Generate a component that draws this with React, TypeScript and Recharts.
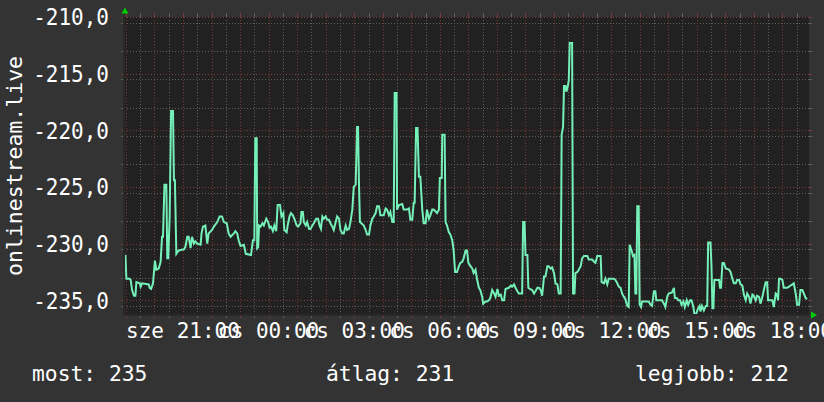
import React from 'react';
import { LineChart, Line, XAxis, YAxis, CartesianGrid } from 'recharts';

// minutes since 18:56 (Wednesday)
const minutes = [
  3, 5, 12, 14, 17, 21, 24, 26, 33, 35, 38, 52, 54, 57, 61, 65, 68, 73, 77, 80, 82, 85, 89, 91, 93, 96, 99, 103, 105, 107,
  110, 115, 126, 129, 133, 136, 140, 143, 147, 150, 154, 161, 163, 166, 171, 175, 178, 185, 189, 196, 201, 206, 210, 216, 220,
  224, 231, 234, 238, 241, 245, 252, 256, 267, 271, 274, 276, 279, 280, 282, 284, 287, 291, 294, 299, 303, 306, 309, 313, 316,
  320, 323, 328, 331, 335, 337, 342, 344, 348, 351, 355, 359, 363, 366, 371,
  373, 376, 378, 382, 385, 389, 392, 396, 399, 404, 408, 411, 414, 417, 420, 424, 427, 431, 434, 438, 441, 445, 448, 452, 455,
  459, 462, 466, 469, 473, 476, 480, 483, 487, 490, 492, 494, 496, 499, 504, 508, 511, 515, 518, 522, 525, 529, 532, 536, 539,
  546, 550, 553, 557, 560, 564, 567, 569, 573, 574, 578, 585, 588, 595, 599, 602, 606, 609, 611, 614, 617, 620, 623, 627, 630,
  634, 637, 641, 644, 648, 651, 658, 662, 664, 668, 669, 674, 676, 679, 683, 686, 690, 693, 696, 700, 704, 707, 711, 714, 718,
  721, 724, 727,
  732, 735, 739, 742, 746, 749, 753, 755, 760, 763, 767, 770, 774, 778, 781, 785, 788, 792, 795, 799, 802, 809, 813, 816, 820,
  823, 827, 830, 834, 837, 839, 842, 844, 848, 850, 853, 858, 862, 865, 869, 872, 876, 879, 883, 886, 890, 893, 897, 900, 904,
  907, 911, 914, 918, 920, 923, 925, 928, 930, 933, 935, 937, 942, 944, 947, 949, 953, 956, 960, 963, 967, 970, 974, 977, 984,
  988, 991, 995, 1002, 1004, 1009, 1012, 1016, 1019, 1030, 1033, 1037, 1040, 1044, 1047, 1051, 1054, 1058, 1061, 1063, 1067,
  1070, 1073, 1075, 1077, 1079, 1082, 1084, 1087, 1089, 1100, 1103, 1107,
  1110, 1114, 1117, 1119, 1131, 1135, 1138, 1142, 1145, 1152, 1156, 1158, 1162, 1165, 1169, 1172, 1176, 1179, 1183, 1186, 1190,
  1193, 1197, 1199, 1203, 1206, 1210, 1212, 1215, 1219, 1223, 1226, 1228, 1233, 1235, 1237, 1239, 1241, 1251, 1253, 1255, 1258,
  1261, 1265, 1272, 1275, 1279, 1282, 1286, 1289, 1293, 1296, 1300, 1303, 1307, 1310, 1314, 1317, 1321, 1324, 1328, 1331, 1335,
  1338, 1342, 1345, 1349, 1352, 1354, 1363, 1366, 1370, 1373, 1375, 1377, 1380, 1384, 1387, 1394, 1398, 1401, 1405, 1408, 1412,
  1415, 1419, 1422, 1426, 1429, 1433, 1436,
];

const values = [
  -231.0, -233.1, -233.1, -233.2, -234.1, -234.6, -234.6, -233.4, -233.5, -233.8, -233.5, -233.6, -233.9, -234.0, -233.5, -231.5,
  -232.3, -232.2, -231.6, -229.4, -229.4, -224.8, -224.8, -231.3, -231.3, -227.6, -218.3, -218.3, -224.4, -224.4,
  -230.9, -230.6, -230.5, -230.3, -229.4, -229.4, -230.4, -229.4, -230.0, -229.8, -230.0, -230.1, -229.1, -228.5, -228.4, -230.0,
  -229.1, -228.8, -228.5, -228.1, -227.6, -227.6, -228.1, -228.2, -229.1,
  -229.4, -229.1, -228.9, -229.1, -229.7, -230.2, -230.1, -230.9, -231.0, -229.7, -229.7, -220.7, -220.7, -230.4, -230.3, -228.4,
  -228.5, -228.2, -228.4, -227.8, -228.1, -228.6, -228.5, -228.9, -228.4,
  -228.9, -226.6, -226.6, -227.6, -227.3, -228.8, -229.0, -228.4, -227.6, -227.3, -227.5, -227.9, -228.4, -228.5, -228.2,
  -227.2, -227.2, -228.1, -228.4, -228.1, -228.7, -228.7, -228.4, -228.2, -227.8, -227.8, -228.4, -228.7, -227.6, -227.8, -227.6,
  -227.9, -227.9, -228.2, -228.5, -228.8, -228.1, -227.6, -227.8, -228.8,
  -229.1, -229.1, -228.4, -228.8, -228.7, -228.1, -227.0, -225.0, -224.8, -219.7, -219.7, -224.8, -228.1, -228.2, -228.4, -228.8,
  -229.2, -229.2, -228.4, -227.8, -227.6, -227.3, -226.7, -226.7, -227.5,
  -227.5, -226.9, -227.0, -227.5, -227.2, -228.1, -228.1, -216.7, -216.7, -227.0, -226.6, -226.5, -227.0, -227.0, -226.9, -227.9,
  -227.9, -226.4, -226.4, -219.8, -219.8, -224.1, -224.1, -227.0, -228.2,
  -228.2, -227.0, -227.8, -227.5, -227.0, -227.0, -227.3, -227.0, -224.2, -224.2, -220.4, -220.4, -228.1, -228.4, -229.0, -229.2,
  -229.7, -230.6, -232.5, -232.5, -232.0, -231.7, -231.6, -231.3, -230.6,
  -230.6, -231.7, -231.9,
  -232.2, -232.6, -232.3, -233.1, -233.9, -234.1, -234.7, -235.3, -235.1, -235.1, -235.0, -234.8, -234.1, -234.4, -234.7, -234.0,
  -234.6, -234.5, -235.0, -235.0, -234.0, -233.9, -233.7, -233.8, -233.6,
  -233.9, -234.2, -234.4, -234.4, -234.4, -228.1, -228.1, -231.0, -231.0, -233.9, -234.0, -234.1, -234.4, -234.2, -233.9, -233.9,
  -234.1, -234.6, -232.9, -232.9, -232.0, -232.0, -232.2, -232.1, -232.6,
  -233.5, -233.6, -234.4, -234.4, -220.4, -219.7, -216.1, -216.1, -216.6, -216.1, -215.6, -212.3, -212.3, -234.4, -234.4, -232.6,
  -232.5, -232.3, -232.0, -231.3, -231.1, -231.1, -231.1, -231.4, -231.4,
  -231.6, -231.7, -231.1, -231.1, -233.4, -233.5, -233.1, -233.6, -233.1, -233.1, -233.2, -233.5, -233.8, -233.9, -234.4, -234.7,
  -234.9, -235.5, -235.6, -230.1, -230.6,
  -231.1, -231.0, -234.4, -234.4, -226.7, -226.7, -235.4, -235.6, -235.1, -235.1, -235.1, -235.4,
  -235.5, -234.2, -234.2, -235.0, -235.0, -235.3, -235.6, -234.7, -234.4, -234.3, -233.9, -234.8, -234.8, -235.0, -235.0, -235.4,
  -235.1, -235.6, -235.0, -235.4, -235.0,
  -235.0, -235.6, -236.2, -236.2, -235.8, -235.5, -236.0, -235.5, -235.9, -235.5, -235.5, -229.9, -229.9, -232.0, -235.7, -235.7,
  -233.2, -233.2, -233.9, -233.9, -231.7,
  -231.7, -232.2, -232.3, -232.5, -233.1, -233.5, -233.5, -233.2, -233.2, -233.6, -233.7, -234.5, -235.0, -234.4, -234.7, -235.3,
  -234.5, -234.6, -235.0, -234.6, -234.7,
  -235.3, -234.7, -234.1, -233.4, -233.4, -235.0, -235.0, -235.6, -234.4, -234.5, -235.0, -233.1, -233.1, -233.2, -233.9, -233.9,
  -233.8, -233.7, -233.6, -233.5, -234.4,
  -235.4, -235.4, -234.1, -234.1, -234.4, -234.8, -234.9,
];

const xTickMinutes = [124, 304, 484, 664, 844, 1024, 1204, 1384];
const xTickLabels = ['sze 21:00', 'cs 00:00', 'cs 03:00', 'cs 06:00', 'cs 09:00', 'cs 12:00', 'cs 15:00', 'cs 18:00'];
const yTicks = [-235, -230, -225, -220, -215, -210];
const yDomain = [-236.3, -210];
const xDomain = [0, 1440];
const legendLabels = ['most: 235', 'átlag: 231', 'legjobb: 212'];
const yTitle = 'onlinestream.live';

const data = minutes.map((m, i) => ({ m, v: values[i] }));

// grid positions
const majorH = yTicks;
const minorH: number[] = [];
for (let k = -472; k <= -421; k++) {
  const v = k / 2;
  if (v % 5 !== 0) minorH.push(v);
}
const majorV: number[] = [];
const minorV: number[] = [];
for (let h = 0; h < 24; h++) {
  majorV.push(4 + 60 * h);
  minorV.push(34 + 60 * h);
}

const FONT = '"DejaVu Sans Mono", monospace';
const MINOR = '#5e5e5e';
const MAJOR = '#7c3838';

const snap = (v: number) => Math.round(v) + 0.5;

const hLine = (color: string) => (p: any) => {
  const y = snap(p.y1);
  return (
    <g key={p.key}>
      <line x1={p.x1} x2={p.x2} y1={y} y2={y} stroke={color} strokeDasharray="1 2" strokeWidth={1} />
      <line x1={p.x1 - 3} x2={p.x1} y1={y} y2={y} stroke={color} strokeWidth={1} />
      <line x1={p.x2} x2={p.x2 + 3} y1={y} y2={y} stroke={color} strokeWidth={1} />
    </g>
  );
};
const vLine = (color: string) => (p: any) => {
  const x = snap(p.x1);
  return (
    <g key={p.key}>
      <line x1={x} x2={x} y1={p.y1} y2={p.y2} stroke={color} strokeDasharray="1 2" strokeWidth={1} />
      <line x1={x} x2={x} y1={p.y1 - 4} y2={p.y1} stroke={color} strokeWidth={1} />
      <line x1={x} x2={x} y1={p.y2} y2={p.y2 + 3} stroke={color} strokeWidth={1} />
    </g>
  );
};

const XTick = (props: any) => {
  const { x, payload } = props;
  const idx = xTickMinutes.indexOf(payload.value);
  return (
    <text x={x} y={338} textAnchor="middle" fontFamily={FONT} fontSize={21} fill="#ffffff">
      {xTickLabels[idx]}
    </text>
  );
};

const fmt = (v: number) => v.toFixed(1).replace('.', ',');

const YTick = (props: any) => {
  const { y, payload } = props;
  return (
    <text
      x={109}
      y={y}
      dy="0.36em"
      textAnchor="end"
      fontFamily={FONT}
      fontSize={21}
      fill="#ffffff"
      transform={`translate(0 ${y}) scale(1 1.12) translate(0 ${-y})`}
    >
      {fmt(payload.value)}
    </text>
  );
};

export default function App() {
  return (
    <div style={{ position: 'absolute', left: 0, top: 0, width: 824, height: 402, background: '#333333' }}>
      <LineChart width={824} height={402} data={data} margin={{ top: 17, right: 15, bottom: 0, left: 0 }}>
        <CartesianGrid
          fill="#212121"
          stroke={MINOR}
          horizontalValues={minorH}
          verticalValues={minorV}
          horizontal={hLine(MINOR)}
          vertical={vLine(MINOR)}
          syncWithTicks={false}
        />
        <CartesianGrid
          stroke={MAJOR}
          horizontalValues={majorH}
          verticalValues={majorV}
          horizontal={hLine(MAJOR)}
          vertical={vLine(MAJOR)}
          syncWithTicks={false}
        />
        <XAxis
          dataKey="m"
          type="number"
          domain={xDomain}
          ticks={xTickMinutes}
          interval={0}
          allowDataOverflow
          height={87}
          tickLine={false}
          axisLine={{ stroke: '#292929', strokeWidth: 2 }}
          tick={<XTick />}
        />
        <YAxis
          type="number"
          domain={yDomain}
          ticks={yTicks}
          allowDataOverflow
          width={124}
          tickLine={false}
          axisLine={{ stroke: '#292929', strokeWidth: 2 }}
          tick={<YTick />}
        />
        <Line
          type="linear"
          dataKey="v"
          stroke="#74f0b8"
          strokeWidth={2}
          dot={false}
          isAnimationActive={false}
        />
      </LineChart>
      <svg
        width={824}
        height={402}
        style={{ position: 'absolute', left: 0, top: 0, pointerEvents: 'none' }}
      >
        <polygon points="121.5,13.5 128.5,13.5 125,7.5" fill="#00d000" />
        <polygon points="811,311.5 811,318.5 817,315" fill="#00d000" />
        <text
          transform="translate(22 166) rotate(-90)"
          textAnchor="middle"
          fontFamily={FONT}
          fontSize={21.5}
          fill="#ffffff"
        >
          {yTitle}
        </text>
        <text x={32} y={381} fontFamily={FONT} fontSize={21.3} fill="#ffffff">{legendLabels[0]}</text>
        <text x={326} y={381} fontFamily={FONT} fontSize={21.3} fill="#ffffff">{legendLabels[1]}</text>
        <text x={635} y={381} fontFamily={FONT} fontSize={21.3} fill="#ffffff">{legendLabels[2]}</text>
      </svg>
    </div>
  );
}
